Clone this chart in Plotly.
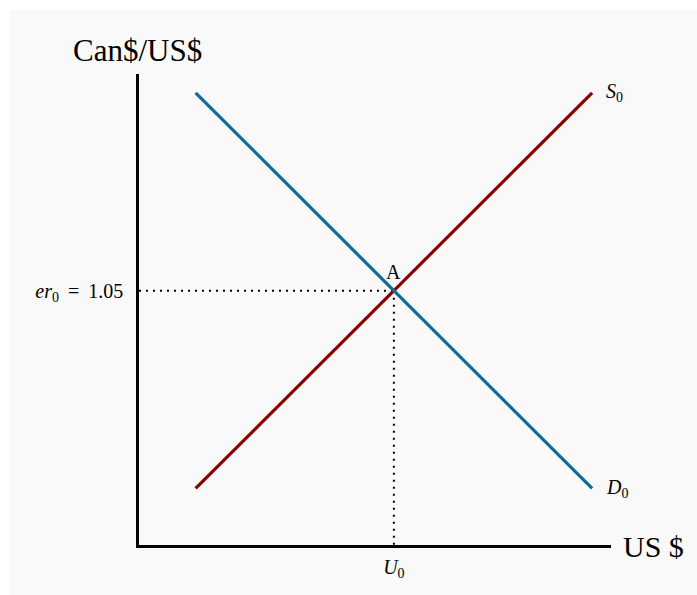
import plotly.graph_objects as go

# Data
demand_x = [1.2, 9.6]
demand_y = [9.6, 1.2]
supply_x = [1.2, 9.6]
supply_y = [1.2, 9.6]
eq_x = 5.4
eq_y = 5.4
y_tick_label = "<i>er</i><sub>0</sub> \u2009=\u2009 1.05"
x_tick_label = "<i>U</i><sub>0</sub>"
demand_label = "<i>D</i><sub>0</sub>"
supply_label = "<i>S</i><sub>0</sub>"
point_label = "A"
y_title = "Can$/US$"
x_title = "US $"

FONT = "Liberation Serif, Times New Roman, serif"
W, H = 697, 595
L, R, T, B = 139, 86, 74, 50
pw, ph = W - L - R, H - T - B

def px(xp):
    return (xp - L) / pw

def py(yp):
    return (H - B - yp) / ph

fig = go.Figure()

# dotted guides
dot = dict(color="black", width=2, dash="2px,5px")
fig.add_trace(go.Scatter(x=[0, eq_x], y=[eq_y, eq_y], mode="lines", line=dot,
                         hoverinfo="skip", showlegend=False))
fig.add_trace(go.Scatter(x=[eq_x, eq_x], y=[eq_y, 0], mode="lines", line=dot,
                         hoverinfo="skip", showlegend=False))

fig.add_trace(go.Scatter(x=supply_x, y=supply_y, mode="lines",
                         line=dict(color="#8b0000", width=3.2), showlegend=False))
fig.add_trace(go.Scatter(x=demand_x, y=demand_y, mode="lines",
                         line=dict(color="#0f6b97", width=3.2), showlegend=False))

annotations = [
    dict(x=supply_x[1], y=supply_y[1], xref="x", yref="y", text=supply_label,
         showarrow=False, xanchor="left", yanchor="middle", xshift=12, yshift=0,
         font=dict(family=FONT, size=20, color="black")),
    dict(x=demand_x[1], y=demand_y[1], xref="x", yref="y", text=demand_label,
         showarrow=False, xanchor="left", yanchor="middle", xshift=12, yshift=0,
         font=dict(family=FONT, size=20, color="black")),
    dict(x=eq_x, y=eq_y, xref="x", yref="y", text=point_label,
         showarrow=False, xanchor="center", yanchor="bottom", yshift=6,
         font=dict(family=FONT, size=20, color="black")),
    dict(x=px(137.5), y=py(50), xref="paper", yref="paper", text=y_title,
         showarrow=False, xanchor="center", yanchor="middle",
         font=dict(family=FONT, size=31, color="black")),
    dict(x=px(621), y=py(546), xref="paper", yref="paper", text=x_title,
         showarrow=False, xanchor="left", yanchor="middle",
         font=dict(family=FONT, size=30, color="black")),
]

fig.update_layout(
    width=W, height=H,
    margin=dict(l=L, r=R, t=T, b=B, pad=0),
    paper_bgcolor="white",
    plot_bgcolor="rgba(0,0,0,0)",
    showlegend=False,
    annotations=annotations,
    shapes=[dict(type="rect", xref="paper", yref="paper", layer="below",
                 x0=px(10), x1=px(W + 5), y0=py(H + 5), y1=py(10),
                 fillcolor="#f9f9f9", line=dict(width=0))],
    xaxis=dict(range=[0, 10], showgrid=False, zeroline=False, showline=True,
               linecolor="black", linewidth=2.5, ticks="",
               tickvals=[eq_x], ticktext=[x_tick_label], ticklabelstandoff=2,
               tickfont=dict(family=FONT, size=20, color="black"), fixedrange=True),
    yaxis=dict(range=[0, 10], showgrid=False, zeroline=False, showline=True,
               linecolor="black", linewidth=2.5, ticks="",
               tickvals=[eq_y], ticktext=[y_tick_label], ticklabelstandoff=9,
               tickfont=dict(family=FONT, size=20, color="black"), fixedrange=True),
)

fig.write_html("out.html", post_script="document.body.style.margin='0';",
               config={"displayModeBar": False})
